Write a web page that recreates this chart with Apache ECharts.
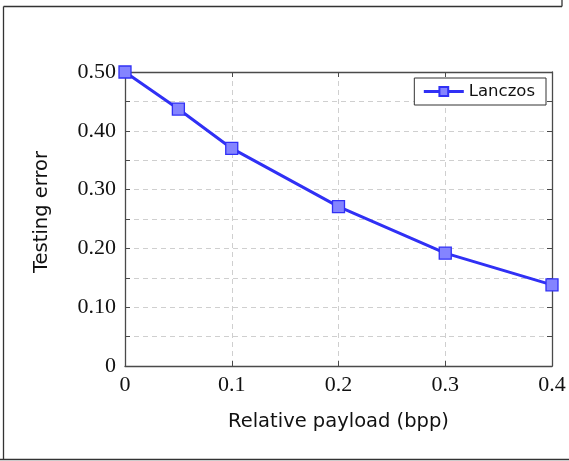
<!DOCTYPE html>
<html>
<head>
<meta charset="utf-8">
<script src="https://cdn.jsdelivr.net/npm/echarts@6/dist/echarts.min.js"></script>
<style>
  html, body { margin: 0; padding: 0; background: #fff; }
  #chart { width: 569px; height: 461px; }
</style>
</head>
<body>
<div id="chart"></div>
<script>
// Testing error of the Lanczos detector versus relative payload
const payload = [0, 0.05, 0.1, 0.2, 0.3, 0.4];
const testingError = [0.500, 0.437, 0.370, 0.271, 0.192, 0.138];
const seriesName = 'Lanczos';
const xTitle = 'Relative payload (bpp)';
const yTitle = 'Testing error';

const axisColor = '#4a4a4a';
const gridColor = '#cfcfcf';
const serif = '"Liberation Serif", "Times New Roman", serif';
const sans = '"DejaVu Sans", sans-serif';

const points = payload.map((x, i) => [x, testingError[i]]);

// y ticks every 0.05, labels only on the tenths
const yLabel = v => {
  const k = Math.round(v * 100);
  if (k % 10 !== 0) return '';
  return k === 0 ? '0' : v.toFixed(2);
};

const tick = { show: true, inside: true, length: 5, lineStyle: { color: axisColor, width: 1 } };
const frameLine = { show: true, onZero: false, lineStyle: { color: axisColor, width: 1.3 } };
const dashed = { show: true, lineStyle: { color: gridColor, type: [5, 4], width: 1 } };

const chart = echarts.init(document.getElementById('chart'));
chart.setOption({
  animation: false,
  backgroundColor: '#fff',
  grid: { left: 125, right: 17, top: 72, bottom: 95 },
  legend: {
    right: 23, top: 78,
    data: [seriesName],
    backgroundColor: '#fff',
    borderColor: '#333', borderWidth: 1, borderRadius: 0,
    padding: [5, 11, 5, 8],
    itemWidth: 40, itemHeight: 11, itemGap: 8,
    lineStyle: { width: 3 },
    textStyle: { fontFamily: sans, fontSize: 16.5, color: '#111' }
  },
  xAxis: [{
    type: 'value', min: 0, max: 0.4, interval: 0.1,
    name: xTitle, nameLocation: 'middle', nameGap: 46,
    nameTextStyle: { fontFamily: sans, fontSize: 19.5, color: '#111' },
    axisLine: frameLine,
    axisTick: tick,
    axisLabel: {
      margin: 8, fontFamily: serif, fontSize: 22, color: '#111',
      formatter: v => v === 0 ? '0' : v.toFixed(1)
    },
    splitLine: dashed
  }, {
    type: 'value', position: 'top', min: 0, max: 0.4, interval: 0.1,
    axisLine: frameLine, axisTick: tick,
    axisLabel: { show: false }, splitLine: { show: false }
  }],
  yAxis: [{
    type: 'value', min: 0, max: 0.5, interval: 0.05,
    name: yTitle, nameLocation: 'middle', nameGap: 73,
    nameTextStyle: { fontFamily: sans, fontSize: 19.5, color: '#111', padding: [0, 0, 0, 14] },
    axisLine: frameLine,
    axisTick: tick,
    axisLabel: { margin: 9, fontFamily: serif, fontSize: 22, color: '#111', formatter: yLabel },
    splitLine: dashed
  }, {
    type: 'value', position: 'right', min: 0, max: 0.5, interval: 0.05,
    axisLine: frameLine, axisTick: tick,
    axisLabel: { show: false }, splitLine: { show: false }
  }],
  series: [{
    name: seriesName,
    type: 'line',
    data: points,
    symbol: 'rect', symbolSize: 12,
    lineStyle: { color: '#3030f5', width: 3 },
    itemStyle: { color: '#8484ff', borderColor: '#3030f5', borderWidth: 1.3 },
    z: 3
  }],
  graphic: [
    { type: 'line', shape: { x1: 3.5, y1: 6.5, x2: 562, y2: 6.5 }, style: { stroke: '#333', lineWidth: 1.3 } },
    { type: 'line', shape: { x1: 3.5, y1: 6.5, x2: 3.5, y2: 459.5 }, style: { stroke: '#333', lineWidth: 1.3 } },
    { type: 'line', shape: { x1: 0, y1: 459.5, x2: 569, y2: 459.5 }, style: { stroke: '#333', lineWidth: 1.3 } },
    { type: 'line', shape: { x1: 562, y1: 0, x2: 562, y2: 6.5 }, style: { stroke: '#333', lineWidth: 1.3 } }
  ]
});
</script>
</body>
</html>
